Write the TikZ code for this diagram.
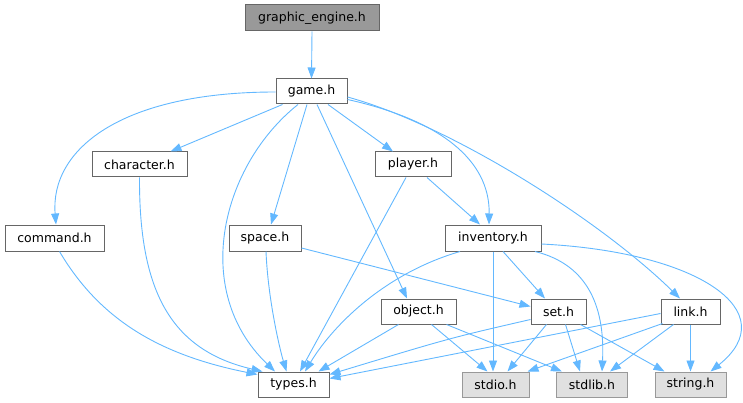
\documentclass[tikz,border=0pt]{standalone}
\usepackage{fontspec}
\setmainfont{DejaVu Sans}
\usetikzlibrary{arrows.meta,calc}
\definecolor{edgeblue}{HTML}{63B8FF}
\definecolor{bordergray}{HTML}{666666}
\definecolor{leafborder}{HTML}{999999}
\definecolor{leaffill}{HTML}{E0E0E0}
\definecolor{rootfill}{HTML}{999999}
\tikzset{
  box/.style={draw=bordergray, fill=white, line width=1pt, inner sep=0pt, minimum height=25pt,
    font=\fontsize{12.5}{14}\selectfont, text=black},
  rootbox/.style={box, fill=rootfill, draw=bordergray},
  leafbox/.style={box, fill=leaffill, draw=leafborder},
  dep/.style={draw=edgeblue, line width=0.9pt, -{Triangle[length=11pt,width=8pt]}, fill=none},
}
\begin{document}
\begin{tikzpicture}[x=1pt,y=-1pt]
\useasboundingbox (0,0) rectangle (743,403);
% nodes
\node[rootbox, minimum width=134pt, minimum height=26pt] (ge) at (312,18) {graphic\_engine.h};
\node[box, minimum width=71pt] (game) at (311.5,91.5) {game.h};
\node[box, minimum width=95pt] (character) at (139.5,164.5) {character.h};
\node[box, minimum width=76pt] (player) at (413,164.5) {player.h};
\node[box, minimum width=99pt, minimum height=26pt] (command) at (54.5,238) {command.h};
\node[box, minimum width=72pt, minimum height=26pt] (space) at (265,238) {space.h};
\node[box, minimum width=96pt, minimum height=26pt] (inventory) at (493,238) {inventory.h};
\node[box, minimum width=75pt] (object) at (418.5,311.5) {object.h};
\node[box, minimum width=55pt] (set) at (558.5,311.5) {set.h};
\node[box, minimum width=59pt] (link) at (690.5,311.5) {link.h};
\node[box, minimum width=71pt] (types) at (293.5,384.5) {types.h};
\node[leafbox, minimum width=67pt] (stdio) at (495.5,384.5) {stdio.h};
\node[leafbox, minimum width=71pt] (stdlib) at (592,384.5) {stdlib.h};
\node[leafbox, minimum width=71pt] (string) at (690.5,384.5) {string.h};
% edges
\draw[dep] (ge.south) -- (game.north);
\draw[dep] ($(game.west)+(0,0.5)$) .. controls (120,92) and (50,150) .. ($(command.north)+(1.5,0)$);
\draw[dep] ($(game.south west)+(7,0)$) -- ($(character.north)+(31,0)$);
\draw[dep] ($(game.south)+(-13.5,0)$) .. controls (222,165) and (190,290) .. ($(types.north)+(-18.5,0)$);
\draw[dep] ($(game.south)+(-4.5,0)$) -- ($(space.north)+(6,0)$);
\draw[dep] ($(game.south)+(5.5,0)$) -- ($(object.north)+(-11.5,0)$);
\draw[dep] ($(game.south)+(16.5,0)$) -- ($(player.north)+(-20,0)$);
\draw[dep] ($(game.east)+(0,8)$) .. controls (440,120) and (490,160) .. ($(inventory.north)+(-4,0)$);
\draw[dep] ($(game.east)+(0,5.5)$) .. controls (450,125) and (600,220) .. ($(link.north)+(-10.5,0)$);
\draw[dep] (character.south) .. controls (139,290) and (170,350) .. ($(types.north west)+(5,0)$);
\draw[dep] ($(command.south)+(5,0)$) .. controls (100,320) and (160,355) .. ($(types.north west)+(0,3)$);
\draw[dep] ($(space.south)+(1,0)$) .. controls (268,300) and (280,350) .. ($(types.north)+(-7,0)$);
\draw[dep] ($(space.east)+(0,10)$) -- ($(set.west)+(0,-5)$);
\draw[dep] ($(player.south)+(-7,0)$) -- ($(types.north)+(6.5,0)$);
\draw[dep] ($(player.south)+(14,0)$) -- ($(inventory.north)+(-13,0)$);
\draw[dep] ($(inventory.south)+(-33,0)$) .. controls (380,275) and (330,330) .. ($(types.north)+(11.5,0)$);
\draw[dep] ($(inventory.south)+(10,0)$) -- ($(set.north)+(-13.5,0)$);
\draw[dep] (inventory.south) -- ($(stdio.north)+(-2.5,0)$);
\draw[dep] ($(inventory.south)+(42,0)$) .. controls (590,265) and (605,310) .. ($(stdlib.north)+(10,0)$);
\draw[dep] ($(inventory.east)+(0,6)$) .. controls (700,252) and (785,312) .. ($(string.north)+(20,0)$);
\draw[dep] ($(object.south)+(-20,0)$) -- ($(types.north east)+(-11,0)$);
\draw[dep] ($(object.south)+(13,0)$) -- ($(stdio.north)+(-8,0)$);
\draw[dep] ($(object.south)+(28,0)$) -- ($(stdlib.north west)+(6,0)$);
\draw[dep] ($(set.west)+(0,8)$) .. controls (450,338) .. ($(types.north east)+(0,3)$);
\draw[dep] ($(set.south)+(-12,0)$) -- ($(stdio.north)+(12,0)$);
\draw[dep] ($(set.south)+(7,0)$) -- ($(stdlib.north)+(-12,0)$);
\draw[dep] ($(set.south east)+(-6,0)$) -- ($(string.north west)+(10,0)$);
\draw[dep] ($(link.west)+(0,2)$) -- ($(types.north east)+(0,7)$);
\draw[dep] ($(link.south west)+(2,-1)$) -- ($(stdio.north east)+(-2,0)$);
\draw[dep] ($(link.south)+(-17,0)$) -- ($(stdlib.north)+(18,0)$);
\draw[dep] (link.south) -- (string.north);
\end{tikzpicture}
\end{document}
